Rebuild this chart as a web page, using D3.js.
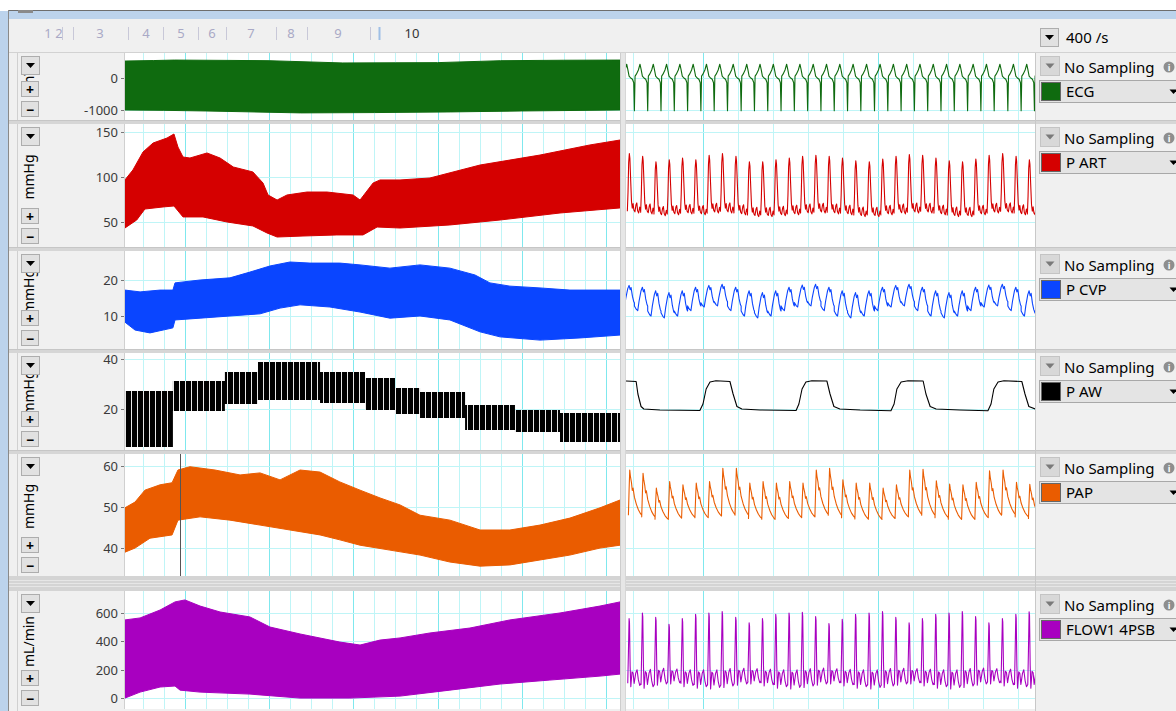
<!DOCTYPE html>
<html>
<head>
<meta charset="utf-8">
<script src="https://cdn.jsdelivr.net/npm/d3@7"></script>
<style>
  html, body { margin: 0; padding: 0; background: #fff; }
  svg { display: block; font-family: "Noto Sans", "Open Sans", sans-serif; }
</style>
</head>
<body>
<svg id="chart" width="1176" height="711"></svg>
<script>
// ---------- data ----------
// overview: time in minutes, [t, value]
const ecgUpper = [[1.15, 530], [2.5, 545], [3.5, 560], [6, 550], [8, 540], [11.5, 470], [14, 475], [16, 480],
  [19, 540], [22, 555], [24.67, 560]];
const ecgLower = [[1.15, -1000], [3, -1010], [5, -1030], [9.5, -1090], [13, -1080], [16.6, -1060], [20, -1030],
  [24.67, -1000]];

const artUpper = [[1.15, 96.7], [1.53, 107.8], [2.01, 127.8], [2.49, 137.8], [3.15, 143.3], [3.48, 147.8], [3.67, 133.3],
  [3.91, 122.2], [4.24, 121.1], [5.05, 126.7], [5.67, 121.1], [6.3, 111.1], [7.23, 105.6], [7.71, 93.3], [7.95, 80],
  [8.38, 74.4], [8.85, 80], [9.8, 83.3], [10.75, 83.3], [11.99, 80], [12.32, 74.4], [12.94, 93.3], [13.27, 96.7],
  [14.22, 96.7], [15.64, 98.9], [18.02, 113.3], [20.87, 124.4], [23.24, 135.6], [24.67, 141.1]];
const artLower = [[1.15, 43.3], [1.71, 52.2], [2.1, 64.4], [2.96, 66.7], [3.48, 67.8], [3.91, 55.6], [4.86, 55.6],
  [6.0, 50], [7.23, 45.6], [7.9, 37.8], [8.38, 33.3], [9.61, 34.4], [11.22, 35.6], [12.46, 35.6], [13.13, 44.4],
  [14.22, 43.3], [16.59, 46.7], [18.97, 52.2], [21.82, 60], [24.67, 65.6]];

const cvpUpper = [[1.15, 17.2], [1.87, 16.7], [2.82, 17.2], [3.43, 17.2], [3.53, 19.2], [4.72, 20], [6.14, 20.6],
  [7.09, 22.2], [8.04, 23.9], [8.99, 25], [9.94, 24.7], [11.36, 24.7], [12.32, 24.2], [13.74, 23.3], [15.17, 24.2],
  [16.59, 23.3], [17.78, 21.4], [18.49, 19.2], [19.44, 18.3], [20.87, 17.8], [22.29, 17.2], [24.67, 17.2]];
const cvpLower = [[1.15, 8.3], [1.63, 6.1], [2.34, 5.3], [3.43, 6.7], [3.53, 8.9], [4.72, 9.4], [6.14, 10],
  [7.57, 10.6], [8.52, 12.2], [9.47, 13.1], [10.89, 12.5], [12.32, 11.1], [13.74, 9.4], [15.17, 10], [16.59, 8.9],
  [18.02, 5.6], [18.97, 4.2], [20.87, 3.3], [22.77, 3.9], [24.67, 4.7]];

// airway pressure settings blocks: [start, peak, peep]
const awBlocks = [[1.15, 27.2, 4.8], [3.43, 31.2, 19.2], [5.9, 34.8, 22], [7.47, 38.8, 23.6], [10.42, 34.8, 22.4],
  [12.56, 32.4, 19.6], [13.98, 28.4, 18], [15.17, 26.8, 16.4], [17.31, 21.6, 11.6], [19.68, 19.6, 10.8],
  [21.82, 18.4, 6.8], [24.67, 18.4, 6.8]];

const papUpper = [[1.15, 49.8], [1.63, 51.2], [2.1, 54.1], [2.82, 55.4], [3.39, 55.9], [3.67, 59], [4.24, 59.8],
  [5.43, 59], [6.62, 57.8], [7.57, 58.3], [8.52, 56.6], [9.47, 59], [10.42, 58.5], [11.36, 56.1], [12.32, 54.1],
  [13.27, 52.2], [14.22, 50.5], [15.17, 48], [16.59, 46.8], [18.02, 44.4], [19.44, 44.4], [20.87, 45.6],
  [22.29, 47.3], [23.72, 49.8], [24.67, 51.7]];
const papLower = [[1.15, 39], [1.63, 40], [2.34, 42.4], [3.39, 43.2], [3.67, 46.8], [4.72, 47.6], [6.14, 46.8],
  [7.57, 45.6], [8.99, 44.4], [10.42, 43.2], [11.36, 42], [12.32, 40.7], [13.74, 39.5], [15.17, 38.3],
  [16.59, 36.6], [18.02, 35.6], [19.44, 35.9], [20.87, 37.1], [22.29, 38.3], [23.72, 40], [24.67, 40.7]];

const flowUpper = [[1.15, 551], [1.87, 565], [2.82, 621], [3.53, 678], [4.0, 692], [4.72, 649], [5.67, 607],
  [7.09, 572], [8.04, 501], [9.47, 452], [11.36, 395], [12.32, 374], [13.27, 409], [14.22, 424], [15.64, 459],
  [17.54, 494], [19.44, 551], [21.82, 600], [23.72, 649], [24.67, 678]];
const flowLower = [[1.15, 0], [1.87, 42], [2.82, 78], [3.53, 85], [3.77, 56], [4.72, 42], [7.09, 28], [9.47, 0],
  [11.84, 0], [14.22, 14], [16.59, 56], [18.97, 99], [21.34, 127], [23.72, 155], [24.67, 169]];

const cursorTime = 3.77; // vertical marker in PAP overview

// detail: time in seconds, R-wave times
const beatTimes = [2.66, 3.04, 3.42, 3.8, 4.18, 4.56, 4.94, 5.32, 5.7, 6.09, 6.47, 6.85, 7.23, 7.61, 7.99, 8.37,
  8.75, 9.13, 9.51, 9.9, 10.28, 10.66, 11.04, 11.42, 11.8, 12.18, 12.56, 12.94, 13.32, 13.71, 14.09, 14.47, 14.85];

// one beat shapes: [phase after R, normalised value]
const ecgShape = [[-0.05, -150], [0, -1020], [0.05, 60], [0.15, 120], [0.3, 250], [0.42, 430], [0.5, 280],
  [0.6, 60], [0.72, 0], [0.85, -40], [0.95, -150]];
const artShape = [[0.47, 0.03], [0.52, 0.35], [0.57, 0.85], [0.62, 1], [0.66, 0.92], [0.72, 0.55], [0.78, 0.2],
  [0.84, 0.08], [0.9, 0.16], [0.96, 0.05], [1.04, 0.02], [1.12, 0.14], [1.18, 0.17], [1.24, 0.04], [1.32, 0],
  [1.4, 0.1], [1.47, 0.03]];
const cvpShape = [[0, 0.2], [0.15, 0.05], [0.25, 0], [0.35, 0.4], [0.5, 0.85], [0.6, 1], [0.68, 0.8],
  [0.75, 0.9], [0.85, 0.5], [0.95, 0.25], [1, 0.2]];
const papShape = [[0.55, 0], [0.6, 0.55], [0.65, 1], [0.7, 0.86], [0.78, 0.72], [0.84, 0.55], [0.9, 0.6],
  [1.0, 0.4], [1.15, 0.24], [1.3, 0.12], [1.45, 0.04], [1.55, 0]];
const flowShape = [[0.5, 0.05], [0.55, 0.5], [0.6, 1], [0.63, 0.95], [0.68, 0.3], [0.73, 0], [0.82, 0.22],
  [0.9, 0.2], [0.98, 0.05], [1.1, 0.2], [1.2, 0.25], [1.3, 0.1], [1.4, 0.02], [1.5, 0.05]];

// per-beat extremes
const artPeaks = [126, 123, 117, 119, 121, 119, 124, 126, 123, 117, 117, 119, 121, 123, 124, 123, 121, 118, 117,
  120, 123, 125, 124, 121, 118, 117, 120, 124, 126, 123, 119, 118, 118];
const artTroughs = [60, 59, 57, 58, 59, 58, 60, 60, 58, 56, 56, 57, 58, 59, 60, 59, 58, 56, 56, 58, 59, 60, 60,
  58, 56, 56, 58, 60, 60, 58, 57, 57, 57];
const cvpPeaks = [18.5, 18, 17, 16.5, 17, 18, 18.5, 18.8, 18, 17, 16.5, 17, 18, 18.6, 18.8, 18, 17, 16.5, 17, 18,
  18.5, 18.8, 18, 17, 16.5, 17, 18, 18.6, 18.8, 18, 17, 16.8, 16.8];
const cvpTroughs = [12.5, 11.5, 10, 9.5, 10, 11.5, 12.5, 12.8, 11.5, 10, 9.5, 10, 11.5, 12.5, 12.8, 11.5, 10,
  9.5, 10, 11.5, 12.5, 12.8, 11.5, 10, 9.5, 10, 11.5, 12.5, 12.8, 11.5, 10, 9.8, 9.8];
const papPeaks = [59, 58.2, 54.6, 56.2, 55.4, 55.8, 56.2, 59.4, 59.4, 55.8, 56.2, 55.8, 56.2, 55.8, 59, 59.4,
  56.6, 55.8, 55.8, 54.6, 55.4, 59, 59.2, 56.4, 55.6, 55.4, 56, 58.8, 59, 56, 55.5, 55.5, 55.5];
const papTroughs = [48, 47.6, 47, 47.3, 47.5, 47.4, 47.8, 48.2, 48, 47.2, 47, 47.2, 47.4, 47.6, 48.2, 48, 47.4,
  47.1, 47, 47.2, 47.6, 48.2, 48, 47.4, 47, 47, 47.4, 48, 48.2, 47.6, 47.2, 47.2, 47.2];
const flowPeaks = [560, 600, 570, 520, 560, 590, 600, 610, 570, 530, 560, 590, 600, 605, 575, 525, 555, 590,
  600, 610, 570, 530, 560, 590, 600, 610, 575, 530, 560, 590, 609, 574, 574];
const flowTroughs = [80, 70, 90, 100, 80, 70, 65, 75, 90, 100, 85, 70, 65, 75, 90, 100, 85, 70, 65, 75, 90,
  100, 85, 70, 65, 75, 90, 100, 85, 70, 70, 70, 70];

// ventilator breaths, [t, cmH2O]
const awDetail = [[2.8, 31.2], [3.09, 31], [3.14, 26], [3.23, 21], [3.31, 20], [3.77, 19.6], [4.91, 19.4],
  [5.0, 22], [5.09, 28], [5.2, 30.8], [5.37, 31.3], [5.77, 31], [5.86, 26], [5.97, 21], [6.11, 20], [6.63, 19.6],
  [7.66, 19.4], [7.74, 22], [7.83, 28], [7.94, 30.8], [8.11, 31.3], [8.54, 31.2], [8.63, 26], [8.74, 21],
  [8.91, 20], [9.49, 19.6], [10.37, 19.3], [10.46, 22], [10.54, 28], [10.66, 30.8], [10.86, 31.3], [11.29, 31.2],
  [11.37, 26], [11.49, 21], [11.66, 20], [12.34, 19.6], [13.14, 19.3], [13.23, 22], [13.31, 28], [13.43, 30.8],
  [13.6, 31.3], [14.11, 31], [14.2, 26], [14.31, 21], [14.49, 20]];

const channelNames = ["ECG", "P ART", "P CVP", "P AW", "PAP", "FLOW1 4PSB"];
const channelColors = ["#0f6b0f", "#d50000", "#0a45ff", "#000000", "#ea5c00", "#a800c0"];
const unitLabels = ["mV", "mmHg", "mmHg", "mmHg", "mmHg", "mL/min"];
const tickValues = [[0, -1000], [50, 100, 150], [10, 20], [20, 40], [40, 50, 60], [0, 200, 400, 600]];
const blockLabels = ["1", "2", "3", "4", "5", "6", "7", "8", "9", "10"];
const rateLabel = "400 /s";

// ---------- layout ----------
const OV = [125, 620];
const DT = [626, 1035];
const LAYOUT = [
  { top: 53, bottom: 120, domain: [-1312, 781] },
  { top: 124, bottom: 247, domain: [22.2, 158.9] },
  { top: 251, bottom: 349, domain: [0.83, 28.06] },
  { top: 353, bottom: 450, domain: [3.6, 42.4] },
  { top: 454, bottom: 576, domain: [33.2, 62.9] },
  { top: 591, bottom: 709, domain: [-77, 755] },
];
const blockLabelX = [48, 59, 100, 146, 181, 212, 251, 291, 338, 412];
const blockSepX = [62, 73, 128, 163, 198, 226, 276, 307, 370];

const svg = d3.select("#chart");
const xOv = d3.scaleLinear().domain([1.154, 24.67]).range(OV);
const xDt = d3.scaleLinear().domain([2.8, 14.486]).range(DT);

function beatSeries(times, shape, peaks, troughs) {
  const pts = [];
  for (let i = 0; i < times.length - 1; i++) {
    const period = times[i + 1] - times[i];
    shape.forEach(([ph, n]) => {
      const v = peaks ? troughs[i] + n * (peaks[i] - troughs[i]) : n;
      pts.push([times[i] + ph * period, v]);
    });
  }
  return pts;
}

const detailSeries = [
  beatSeries(beatTimes, ecgShape, null, null),
  beatSeries(beatTimes, artShape, artPeaks, artTroughs),
  beatSeries(beatTimes, cvpShape, cvpPeaks, cvpTroughs),
  awDetail,
  beatSeries(beatTimes, papShape, papPeaks, papTroughs),
  beatSeries(beatTimes, flowShape, flowPeaks, flowTroughs),
];
const envelopes = [
  [ecgUpper, ecgLower], [artUpper, artLower], [cvpUpper, cvpLower], null,
  [papUpper, papLower], [flowUpper, flowLower],
];

// ---------- chrome ----------
svg.append("rect").attr("x", 0).attr("y", 0).attr("width", 1176).attr("height", 711).attr("fill", "#fff");
svg.append("rect").attr("x", 0).attr("y", 11).attr("width", 8).attr("height", 700).attr("fill", "#bcd3ec");
svg.append("rect").attr("x", 9).attr("y", 11).attr("width", 1167).attr("height", 8).attr("fill", "#bcd3ec");
svg.append("rect").attr("x", 9).attr("y", 19).attr("width", 1167).attr("height", 692).attr("fill", "#f0f0f0");
svg.append("line").attr("x1", 8).attr("x2", 1176).attr("y1", 10.5).attr("y2", 10.5).attr("stroke", "#6e6e6e");
svg.append("line").attr("x1", 8.5).attr("x2", 8.5).attr("y1", 10).attr("y2", 711).attr("stroke", "#8a8a8a");
svg.append("rect").attr("x", 18).attr("y", 10).attr("width", 15).attr("height", 3).attr("fill", "#8a8a8a");
svg.append("line").attr("x1", 9).attr("x2", 1176).attr("y1", 52.5).attr("y2", 52.5).attr("stroke", "#d2d2d2");
svg.append("line").attr("x1", 17.5).attr("x2", 17.5).attr("y1", 53).attr("y2", 711).attr("stroke", "#d0d0d0");

// block labels in toolbar
svg.append("g").selectAll("text").data(blockLabels).join("text")
  .attr("x", (d, i) => blockLabelX[i]).attr("y", 38).attr("text-anchor", "middle")
  .attr("font-size", 13).attr("fill", (d, i) => (i === blockLabels.length - 1 ? "#333" : "#a9a9c6"))
  .text((d) => d);
svg.append("g").selectAll("line").data(blockSepX).join("line")
  .attr("x1", (d) => d + 0.5).attr("x2", (d) => d + 0.5).attr("y1", 27).attr("y2", 40)
  .attr("stroke", "#c8c8d8");
svg.append("line").attr("x1", 379.5).attr("x2", 379.5).attr("y1", 27).attr("y2", 40)
  .attr("stroke", "#9ebfe6").attr("stroke-width", 2);

function dropButton(g, x, y, w, h, enabled) {
  g.append("rect").attr("x", x + 0.5).attr("y", y + 0.5).attr("width", w).attr("height", h)
    .attr("fill", enabled ? "#e1e1e1" : "#d8d8d8").attr("stroke", enabled ? "#adadad" : "#c4c4c4");
  const cx = x + w / 2 + 0.5, cy = y + h / 2 + 0.5;
  g.append("path").attr("d", `M${cx - 4.5},${cy - 2.5}L${cx + 4.5},${cy - 2.5}L${cx},${cy + 2.5}Z`)
    .attr("fill", enabled ? "#000" : "#7a7a7a");
}

dropButton(svg, 1040, 28, 18, 18, true);
svg.append("text").attr("x", 1066).attr("y", 43).attr("font-size", 15).attr("fill", "#000").text(rateLabel);

// ---------- panes ----------
const defs = svg.append("defs");
const stripe = defs.append("pattern").attr("id", "awStripe").attr("patternUnits", "userSpaceOnUse")
  .attr("width", 6).attr("height", 10);
stripe.append("rect").attr("width", 6).attr("height", 10).attr("fill", "#000");
stripe.append("rect").attr("x", 5).attr("width", 1).attr("height", 10).attr("fill", "#e8e8e8");

LAYOUT.forEach((pane, i) => {
  const y = d3.scaleLinear().domain(pane.domain).range([pane.bottom, pane.top]);
  const g = svg.append("g");
  const clipOv = `clipOv${i}`, clipDt = `clipDt${i}`;
  defs.append("clipPath").attr("id", clipOv).append("rect")
    .attr("x", OV[0]).attr("y", pane.top).attr("width", OV[1] - OV[0]).attr("height", pane.bottom - pane.top);
  defs.append("clipPath").attr("id", clipDt).append("rect")
    .attr("x", DT[0]).attr("y", pane.top).attr("width", DT[1] - DT[0]).attr("height", pane.bottom - pane.top);

  [OV, DT].forEach((r) => {
    g.append("rect").attr("x", r[0]).attr("y", pane.top).attr("width", r[1] - r[0])
      .attr("height", pane.bottom - pane.top).attr("fill", "#fff");
  });

  // grid
  const grid = g.append("g");
  d3.range(2, 25).forEach((t) => {
    const x = Math.round(xOv(t)) + 0.5;
    grid.append("line").attr("x1", x).attr("x2", x).attr("y1", pane.top).attr("y2", pane.bottom)
      .attr("stroke", t % 4 === 0 ? "#7fe8ee" : "#bff5f7");
  });
  d3.range(3, 15).forEach((t) => {
    const x = Math.round(xDt(t)) + 0.5;
    grid.append("line").attr("x1", x).attr("x2", x).attr("y1", pane.top).attr("y2", pane.bottom)
      .attr("stroke", t % 5 === 0 ? "#7fe8ee" : "#bff5f7");
  });
  tickValues[i].forEach((v) => {
    const yy = Math.round(y(v)) + 0.5;
    [OV, DT].forEach((r) => {
      grid.append("line").attr("x1", r[0]).attr("x2", r[1]).attr("y1", yy).attr("y2", yy).attr("stroke", "#bff5f7");
    });
  });

  // overview
  const ovG = g.append("g").attr("clip-path", `url(#${clipOv})`);
  const toXY = (d) => [xOv(d[0]), y(d[1])];
  if (envelopes[i]) {
    const [up, lo] = envelopes[i];
    const poly = up.map(toXY).concat(lo.slice().reverse().map(toXY));
    ovG.append("path").attr("d", d3.line()(poly) + "Z").attr("fill", channelColors[i])
      .attr("stroke", channelColors[i]).attr("stroke-width", 1);
  } else {
    const area = d3.area().curve(d3.curveStepAfter).x((d) => xOv(d[0])).y0((d) => y(d[2])).y1((d) => y(d[1]));
    ovG.append("path").attr("d", area(awBlocks)).attr("fill", "url(#awStripe)");
  }
  if (i === 4) {
    const cx = Math.round(xOv(cursorTime)) + 0.5;
    ovG.append("line").attr("x1", cx).attr("x2", cx).attr("y1", pane.top).attr("y2", pane.bottom)
      .attr("stroke", "#555").attr("stroke-width", 1);
  }

  // detail
  const line = d3.line().x((d) => xDt(d[0])).y((d) => y(d[1]));
  g.append("g").attr("clip-path", `url(#${clipDt})`).append("path")
    .attr("d", line(detailSeries[i])).attr("fill", "none").attr("stroke", channelColors[i])
    .attr("stroke-width", 1.1).attr("stroke-linejoin", "round");

  // left panel: ticks + labels
  tickValues[i].forEach((v) => {
    const yy = Math.round(y(v)) + 0.5;
    g.append("line").attr("x1", 121).attr("x2", 124).attr("y1", yy).attr("y2", yy).attr("stroke", "#777");
    g.append("text").attr("x", 118).attr("y", yy).attr("dy", "0.35em").attr("text-anchor", "end")
      .attr("font-size", 13).attr("fill", "#3a3a3a").text(v);
  });
  g.append("line").attr("x1", 124.5).attr("x2", 124.5).attr("y1", pane.top).attr("y2", pane.bottom).attr("stroke", "#d0d0d0");

  const dropTop = pane.top + 3, plusTop = pane.bottom - 39, minusTop = pane.bottom - 19;
  const clipU = `clipU${i}`;
  defs.append("clipPath").attr("id", clipU).append("rect")
    .attr("x", 18).attr("y", dropTop + 19).attr("width", 30).attr("height", Math.max(0, plusTop - dropTop - 19));
  const midY = (dropTop + 19 + plusTop) / 2;
  g.append("g").attr("clip-path", `url(#${clipU})`).append("text")
    .attr("transform", `translate(34,${midY}) rotate(-90)`).attr("text-anchor", "middle")
    .attr("font-size", 14).attr("fill", "#000").text(unitLabels[i]);

  dropButton(g, 21, dropTop, 18, 18, true);
  [["+", plusTop], ["\u2212", minusTop]].forEach(([s, yy]) => {
    g.append("rect").attr("x", 21.5).attr("y", yy + 0.5).attr("width", 17).attr("height", 15)
      .attr("fill", "#e1e1e1").attr("stroke", "#adadad");
    g.append("text").attr("x", 30).attr("y", yy + 8.5).attr("dy", "0.36em").attr("text-anchor", "middle")
      .attr("font-size", 14).attr("font-weight", "bold").attr("fill", "#000").text(s);
  });

  // right panel
  dropButton(g, 1040, pane.top + 3, 19, 19, false);
  g.append("text").attr("x", 1064).attr("y", pane.top + 20).attr("font-size", 15).attr("fill", "#000").text("No Sampling");
  g.append("circle").attr("cx", 1169).attr("cy", pane.top + 14).attr("r", 5.5).attr("fill", "#8e8e8e");
  g.append("text").attr("x", 1169).attr("y", pane.top + 17.5).attr("text-anchor", "middle")
    .attr("font-size", 9).attr("font-weight", "bold").attr("fill", "#fff").text("i");
  g.append("rect").attr("x", 1039.5).attr("y", pane.top + 27.5).attr("width", 150).attr("height", 22)
    .attr("fill", "#e4e4e4").attr("stroke", "#a8a8a8");
  g.append("rect").attr("x", 1041.5).attr("y", pane.top + 29.5).attr("width", 19).attr("height", 18)
    .attr("fill", channelColors[i]).attr("stroke", "#666");
  g.append("text").attr("x", 1066).attr("y", pane.top + 44).attr("font-size", 15).attr("fill", "#000").text(channelNames[i]);
  g.append("path").attr("d", `M1169.5,${pane.top + 36.5}L1177.5,${pane.top + 36.5}L1173.5,${pane.top + 41}Z`).attr("fill", "#000");
});

// separators
const divs = [[120, 124], [247, 251], [349, 353], [450, 454]];
divs.forEach(([a, b]) => {
  svg.append("rect").attr("x", 9).attr("y", a).attr("width", 1167).attr("height", b - a).attr("fill", "#d6d6d6");
  svg.append("line").attr("x1", 9).attr("x2", 1176).attr("y1", a + 0.5).attr("y2", a + 0.5).attr("stroke", "#c6c6c6");
});
svg.append("rect").attr("x", 9).attr("y", 576).attr("width", 1167).attr("height", 15).attr("fill", "#d4d4d4");
[580.5, 583.5, 586.5].forEach((yy) => {
  svg.append("line").attr("x1", 9).attr("x2", 1176).attr("y1", yy).attr("y2", yy).attr("stroke", "#e6e6e6");
});
svg.append("rect").attr("x", 620).attr("y", 53).attr("width", 6).attr("height", 658).attr("fill", "#e6e6e6");
svg.append("line").attr("x1", 620.5).attr("x2", 620.5).attr("y1", 53).attr("y2", 711).attr("stroke", "#cdcdcd");
svg.append("line").attr("x1", 625.5).attr("x2", 625.5).attr("y1", 53).attr("y2", 711).attr("stroke", "#d6d6d6");
svg.append("line").attr("x1", 1035.5).attr("x2", 1035.5).attr("y1", 53).attr("y2", 711).attr("stroke", "#c8c8c8");
</script>
</body>
</html>
